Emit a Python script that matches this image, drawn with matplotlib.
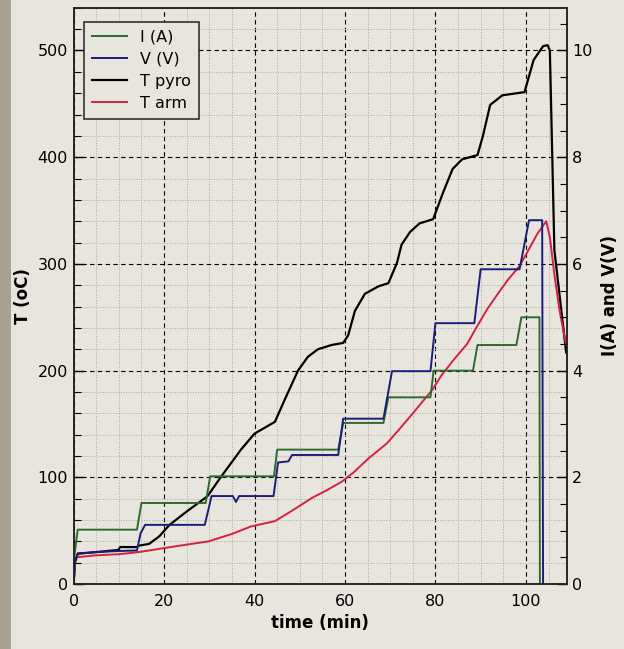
import matplotlib
matplotlib.use("Agg")
import matplotlib.pyplot as plt
from matplotlib.ticker import MultipleLocator
from matplotlib.patches import Rectangle

# current (A)
t_i = [0, 0.2, 0.9, 14.0, 15.0, 29.2, 30.2, 44.3, 45.0, 58.5, 59.6, 68.5, 69.6,
       78.9, 79.6, 88.3, 89.3, 97.9, 99.0, 103.0, 103.1]
current = [0, 0.55, 1.02, 1.02, 1.52, 1.52, 2.02, 2.02, 2.52, 2.52, 3.02, 3.02,
           3.5, 3.5, 4.0, 4.0, 4.48, 4.48, 5.0, 5.0, 0]

# voltage (V)
t_v = [0, 0.3, 1, 5, 10, 14.0, 14.8, 15.8, 29.0, 30.5, 35.2, 35.9, 36.6, 44.2,
       45.2, 47.5, 48.3, 58.5, 59.6, 68.5, 70.4, 78.9, 80.0, 88.6, 90.0, 98.6,
       100.7, 103.6, 103.8]
voltage = [0, 0.45, 0.57, 0.6, 0.62, 0.63, 0.95, 1.11, 1.11, 1.65, 1.65, 1.54,
           1.65, 1.65, 2.28, 2.3, 2.42, 2.42, 3.1, 3.1, 3.99, 3.99, 4.89, 4.89,
           5.9, 5.9, 6.82, 6.82, 0]

# pyrometer temperature (oC)
t_pyro = [0, 0.3, 0.9, 5, 9.9, 10.3, 14.0, 14.4, 16.7, 19, 21.2, 25, 29.5, 30.2,
          32.5, 37.0, 40.0, 44.5, 46.7, 49.6, 51.8, 54.0, 57.0, 59.6, 60.7, 62.2,
          64.4, 67.4, 69.6, 71.5, 72.5, 74.4, 76.5, 79.5, 81.7, 83.8, 85.9, 89.3,
          90.5, 92.1, 94.8, 99.7, 101.7, 103.8, 104.8, 105.3, 106.3, 108.9]
T_pyro = [0, 20, 28.6, 30, 32, 34.7, 34.7, 36, 37.7, 45, 55.5, 68, 82, 86, 100,
          126, 141, 152, 173, 200, 213, 220, 224, 226, 233, 256, 272, 279, 282,
          301, 318, 330, 338, 342, 367, 389, 398, 402, 420, 449, 458, 461, 491,
          504, 505, 500, 313, 217]

# armature temperature (oC)
t_arm = [0, 0.3, 5, 10, 14.4, 20.4, 25, 29.8, 35, 39.2, 44.5, 48, 52.8, 56,
         59.3, 62, 65, 69.3, 72, 75, 79.3, 81.4, 84, 87, 89, 91.5, 93.8, 96,
         98.6, 100.7, 102.5, 104.5, 105.3, 106.3, 107.5, 108.9]
T_arm = [0, 25, 27, 28, 30, 34, 37, 40, 47, 54, 59, 68, 81, 88, 96, 105, 117,
         132, 145, 160, 182, 196, 210, 225, 240, 258, 272, 285, 298, 314, 328,
         340, 325, 290, 255, 224]

paper = "#e8e5de"

fig = plt.figure(figsize=(6.24, 6.49), dpi=100, facecolor=paper)
fig.patches.append(Rectangle((0, 0), 0.018, 1, transform=fig.transFigure,
                             facecolor="#aaa192", edgecolor="none", zorder=0))
ax = fig.add_axes([0.118, 0.1, 0.79, 0.888])
ax.set_facecolor(paper)
ax2 = ax.twinx()

l1, = ax2.plot(t_i, current, color="#2f6a2f", lw=1.4, label="I (A)")
l2, = ax2.plot(t_v, voltage, color="#1c1c7a", lw=1.4, label="V (V)")
l3, = ax.plot(t_pyro, T_pyro, color="black", lw=1.6, label="T pyro")
l4, = ax.plot(t_arm, T_arm, color="#d4213f", lw=1.4, label="T arm")

ax.set_xlim(0, 109)
ax.set_ylim(0, 540)
ax2.set_ylim(0, 10.8)

ax.xaxis.set_major_locator(MultipleLocator(20))
ax.xaxis.set_minor_locator(MultipleLocator(5))
ax.yaxis.set_major_locator(MultipleLocator(100))
ax.yaxis.set_minor_locator(MultipleLocator(20))
ax2.yaxis.set_major_locator(MultipleLocator(2))
ax2.yaxis.set_minor_locator(MultipleLocator(0.5))

ax.grid(which="minor", color="#a9a69f", linestyle=":", lw=0.7)
ax.grid(which="major", color="black", linestyle=(0, (4, 3)), lw=0.8)
ax.set_axisbelow(True)

for a in (ax, ax2):
    a.tick_params(which="both", direction="in", labelsize=11.5, pad=4)
    a.tick_params(which="major", length=7, width=1)
    a.tick_params(which="minor", length=5, width=0.8)
    for s in a.spines.values():
        s.set_linewidth(1.1)
        s.set_color("#222222")
ax.tick_params(axis="x", which="both", length=0, pad=7)

ax.set_xlabel("time (min)", fontsize=12, fontweight="bold", labelpad=4)
ax.set_ylabel("T (oC)", fontsize=12, fontweight="bold", labelpad=4)
ax2.set_ylabel("I(A) and V(V)", fontsize=12, fontweight="bold", labelpad=6)

leg = ax2.legend(handles=[l1, l2, l3, l4], loc="upper left",
                 bbox_to_anchor=(0.005, 0.99), fontsize=11.5, fancybox=False,
                 framealpha=1, facecolor=paper, edgecolor="#222222",
                 handlelength=2.2, borderpad=0.5, labelspacing=0.45)
leg.get_frame().set_linewidth(1.1)

fig.savefig("out.png", dpi=100, facecolor=paper)
